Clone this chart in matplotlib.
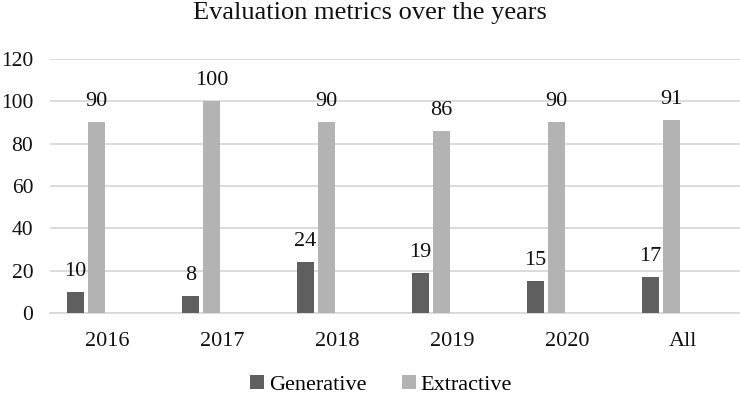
import numpy as np
import matplotlib
matplotlib.use('Agg')
import matplotlib.pyplot as plt

categories = ['2016', '2017', '2018', '2019', '2020', 'All']
generative = [10, 8, 24, 19, 15, 17]
extractive = [90, 100, 90, 86, 90, 91]

plt.rcParams['font.family'] = ['Liberation Serif', 'DejaVu Serif']

fig = plt.figure(figsize=(7.4, 3.97), dpi=100)
ax = fig.add_axes([0.0676, 0.2116, 0.9324, 0.6398])

x = np.arange(len(categories))
w = 0.145
dark = '#5f5f5f'
light = '#b3b3b3'

b1 = ax.bar(x - 0.278, generative, w, color=dark, label='Generative', zorder=3)
b2 = ax.bar(x - 0.096, extractive, w, color=light, label='Extractive', zorder=3)

for bars, vals in ((b1, generative), (b2, extractive)):
    for rect, v in zip(bars, vals):
        ax.annotate(str(v), (rect.get_x() + rect.get_width() / 2, v),
                    xytext=(0, 8), textcoords='offset points',
                    ha='center', va='bottom', fontsize=16, color='#111111')

ax.set_xlim(-0.5, len(categories) - 0.5)
ax.set_ylim(0, 120)
ax.set_yticks(range(0, 121, 20))
ax.set_xticks(x)
ax.set_xticklabels(categories)
ax.grid(axis='y', color='#d9d9d9', linewidth=1.3, zorder=0)
for s in ['top', 'right', 'left']:
    ax.spines[s].set_visible(False)
ax.spines['bottom'].set_color('#d9d9d9')
ax.spines['bottom'].set_linewidth(1.3)
ax.tick_params(axis='both', length=0, colors='#111111')
ax.tick_params(axis='x', pad=14, labelsize=16)
ax.tick_params(axis='y', pad=12, labelsize=15.5)

fig.suptitle('Evaluation metrics over the years', x=0.5, y=0.995, fontsize=19, color='#111111')

fig.legend(loc='lower center', bbox_to_anchor=(0.515, -0.045), ncol=2, frameon=False,
           fontsize=16, handlelength=0.65, handleheight=0.65, handletextpad=0.2,
           columnspacing=1.6)

plt.savefig('out.png', dpi=100)
plt.close()
